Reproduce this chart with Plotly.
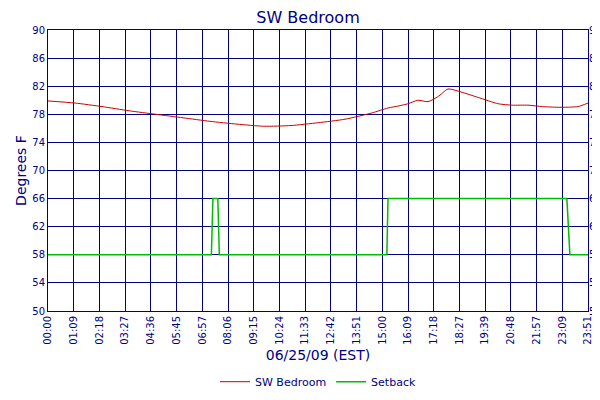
import plotly.graph_objects as go

# time in minutes since midnight (approx)
temp_t = [0, 72, 143, 215, 286, 358, 429, 501, 572, 644, 716, 787, 859, 901, 930, 954,
          980, 1007, 1033, 1060, 1087, 1140, 1193, 1230, 1272, 1310, 1352, 1405, 1431]
temp_v = [79.9, 79.6, 79.1, 78.5, 78.0, 77.5, 77.0, 76.6, 76.3, 76.4, 76.8, 77.3, 78.2, 78.9, 79.2, 79.5,
          80.0, 79.8, 80.5, 81.6, 81.3, 80.4, 79.5, 79.3, 79.3, 79.1, 79.0, 79.1, 79.6]

set_t = [0, 433, 435, 437, 450, 452, 454, 898, 899, 901, 1375, 1379, 1383, 1431]
set_v = [58, 58, 62, 66, 66, 62, 58, 58, 62, 66, 66, 62, 58, 58]

tick_labels = ["00:00", "01:09", "02:18", "03:27", "04:36", "05:45", "06:57", "08:06", "09:15", "10:24",
               "11:33", "12:42", "13:51", "15:00", "16:09", "17:18", "18:27", "19:39", "20:48", "21:57",
               "23:09", "23:51"]
tick_vals = [i * 1431 / 21 for i in range(len(tick_labels))]
y_ticks = list(range(50, 91, 4))

navy = "#000080"
fig = go.Figure()
fig.add_trace(go.Scatter(x=temp_t, y=temp_v, mode="lines", name="SW Bedroom",
                         line=dict(color="#cc0000", width=1, shape="spline", smoothing=0.6)))
fig.add_trace(go.Scatter(x=set_t, y=set_v, mode="lines", name="Setback",
                         line=dict(color="#00bb00", width=1.5)))
fig.add_trace(go.Scatter(x=[0], y=[50], yaxis="y2", showlegend=False, hoverinfo="skip",
                         mode="markers", marker=dict(opacity=0)))

axis_common = dict(showline=True, linecolor=navy, mirror=True, gridcolor=navy, gridwidth=1,
                   tickfont=dict(color=navy, size=10), zeroline=False, automargin=False)
fig.update_layout(
    width=600, height=400, plot_bgcolor="white", paper_bgcolor="white",
    font=dict(family="DejaVu Sans", color=navy),
    margin=dict(l=40, r=20, t=22, b=82),
    title=dict(text="SW Bedroom", x=0.5, y=0.99, yanchor="top", font=dict(size=16, color=navy)),
    xaxis=dict(range=[0, 1431], tickvals=tick_vals, ticktext=tick_labels, tickangle=-90,
               title=dict(text="06/25/09 (EST)", font=dict(size=14, color=navy), standoff=6),
               **axis_common),
    yaxis=dict(range=[50, 90], tickvals=y_ticks,
               title=dict(text="Degrees F", font=dict(size=14, color=navy), standoff=2), **axis_common),
    yaxis2=dict(range=[50, 90], tickvals=y_ticks, overlaying="y", side="right", showgrid=False,
                showline=False, tickfont=dict(color=navy, size=10), zeroline=False, automargin=False),
    legend=dict(orientation="h", x=0.5, xanchor="center", y=-0.2, yanchor="top",
                font=dict(size=11, color=navy)),
)
fig.write_html("out.html")
